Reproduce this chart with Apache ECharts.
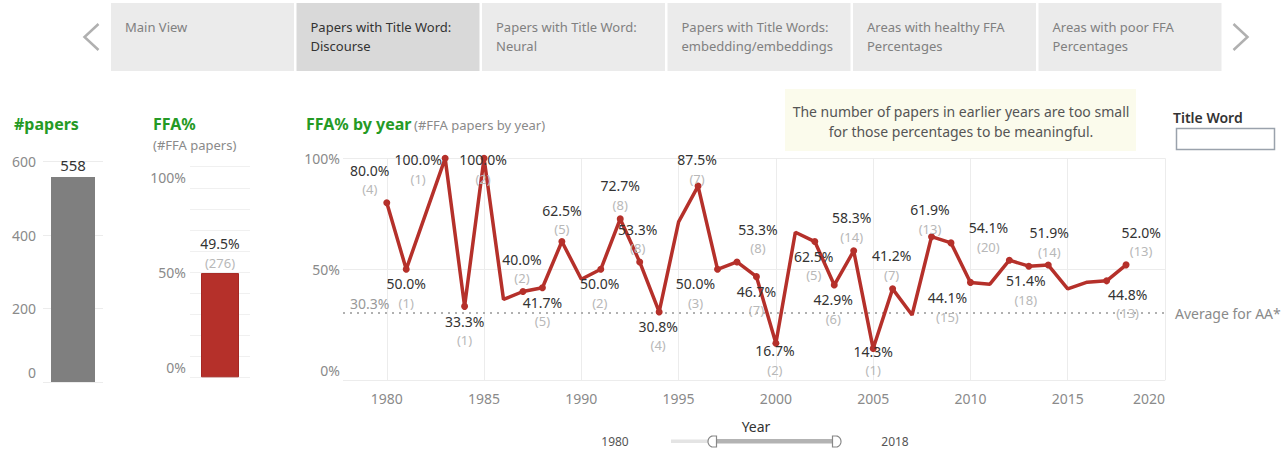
<!DOCTYPE html>
<html>
<head>
<meta charset="utf-8">
<script src="https://cdn.jsdelivr.net/npm/echarts@6/dist/echarts.min.js"></script>
<style>
html,body{margin:0;padding:0;background:#ffffff;}
#c{width:1286px;height:453px;}
</style>
</head>
<body>
<div id="c"></div>
<script>
// ---------- DATA ----------
const tabLines = [
  ["Main View", ""],
  ["Papers with Title Word:", "Discourse"],
  ["Papers with Title Word:", "Neural"],
  ["Papers with Title Words:", "embedding/embeddings"],
  ["Areas with healthy FFA", "Percentages"],
  ["Areas with poor FFA", "Percentages"]
];
const selectedTab = 1;

const totalPapers = 558;
const totalFfaPct = 49.5;
const totalFfaCount = 276;
const averageAA = 30.3;

const papersTicks = [0, 200, 400, 600];
const pctTicksSmall = [0, 10, 20, 30, 40, 50, 60, 70, 80, 90, 100];
const pctLabelTicks = [0, 50, 100];
const yearTicks = [1980, 1985, 1990, 1995, 2000, 2005, 2010, 2015, 2020];

const years = [1980, 1981, 1983, 1984, 1985, 1986, 1987, 1988, 1989, 1990,
  1991, 1992, 1993, 1994, 1995, 1996, 1997, 1998, 1999, 2000,
  2001, 2002, 2003, 2004, 2005, 2006, 2007, 2008, 2009, 2010,
  2011, 2012, 2013, 2014, 2015, 2016, 2017, 2018];
const ffaPct = [80.0, 50.0, 100.0, 33.3, 100.0, 36.4, 40.0, 41.7, 62.5, 45.5,
  50.0, 72.7, 53.3, 30.8, 71.4, 87.5, 50.0, 53.3, 46.7, 16.7,
  66.7, 62.5, 42.9, 58.3, 14.3, 41.2, 29.4, 64.7, 61.9, 44.1,
  43.3, 54.1, 51.4, 51.9, 41.2, 44.2, 44.8, 52.0];
const ffaCount = [4, 1, 1, 1, 2, null, 2, 5, 5, null,
  2, 8, 8, 4, null, 7, 3, 8, 7, 2,
  null, 5, 6, 14, 1, 7, null, null, 13, 15,
  null, 20, 18, 14, null, null, 13, 13];

const sliderYears = [1980, 2018];

// ---------- LAYOUT / STYLE ----------
const labelShift = {
  1980: [-17, -23], 1981: [0, 24], 1983: [-27, 11], 1984: [0, 24.5], 1985: [-1, 11],
  1987: [-1, -23], 1988: [0, 24], 1989: [0, -22], 1991: [-1, 24], 1992: [0, -23.5],
  1993: [-2, -23], 1994: [-1, 24], 1996: [-1, -17], 1997: [-22, 24], 1998: [21, -23],
  1999: [0, 24], 2000: [-1, 17], 2002: [-1, 24], 2003: [-1, 24], 2004: [-2, -23.5],
  2005: [0, 12], 2006: [-1, -23.5], 2009: [-21, -23.5], 2010: [-23, 25], 2012: [-21, -23],
  2013: [-3, 24], 2014: [1, -23], 2017: [21, 23], 2018: [15, -23]
};
const extraMarkers = [2008];

const FONT = '"Noto Sans"';
const GREEN = '#259a25';
const RED = '#b5302a';
const AXIS_GRAY = '#8a8a8a';
const LIGHT = '#b8b8b8';
const GRID = '#ececec';

const richPct = {
  p: { fontSize: 14, color: '#333333', lineHeight: 19, fontFamily: FONT },
  c: { fontSize: 13, color: LIGHT, lineHeight: 19, fontFamily: FONT }
};

const lineData = years.map((y, i) => {
  const sh = labelShift[y];
  const item = { value: [y, ffaPct[i]] };
  if (sh && ffaCount[i] != null) {
    item.label = {
      show: true, position: 'inside', offset: sh,
      formatter: '{p|' + ffaPct[i].toFixed(1) + '%}\n{c|(' + ffaCount[i] + ')}',
      rich: richPct
    };
    item.symbolSize = 7;
  } else if (extraMarkers.indexOf(y) >= 0) {
    item.symbolSize = 7;
  } else {
    item.symbolSize = 0.01;
  }
  return item;
});

// ---------- GRAPHICS ----------
const graphics = [];
tabLines.forEach((t, i) => {
  const x = 111 + i * 185.5;
  const col = i === selectedTab ? '#333333' : '#808080';
  graphics.push({ type: 'rect', shape: { x: x, y: 3, width: 183, height: 68 },
    style: { fill: i === selectedTab ? '#d9d9d9' : '#ebebeb' }, silent: true });
  graphics.push({ type: 'text', x: x + 14, y: 27,
    style: { text: t[0], fill: col, font: '13px ' + FONT, verticalAlign: 'middle' } });
  if (t[1]) graphics.push({ type: 'text', x: x + 14, y: 46,
    style: { text: t[1], fill: col, font: '13px ' + FONT, verticalAlign: 'middle' } });
});
graphics.push({ type: 'polyline', shape: { points: [[98.5, 24], [84.5, 37], [98.5, 50]] }, style: { stroke: '#b0b0b0', lineWidth: 2.5, fill: null } });
graphics.push({ type: 'polyline', shape: { points: [[1233.5, 24], [1247.5, 37], [1233.5, 50]] }, style: { stroke: '#b0b0b0', lineWidth: 2.5, fill: null } });

graphics.push({ type: 'text', x: 14, y: 124, style: { text: '#papers', fill: GREEN, font: 'bold 16px ' + FONT, verticalAlign: 'middle' } });
graphics.push({ type: 'text', x: 153, y: 124, style: { text: 'FFA%', fill: GREEN, font: 'bold 16px ' + FONT, verticalAlign: 'middle' } });
graphics.push({ type: 'text', x: 153, y: 145, style: { text: '(#FFA papers)', fill: '#8a8a8a', font: '13px ' + FONT, verticalAlign: 'middle' } });
graphics.push({ type: 'text', x: 306, y: 124, style: { text: 'FFA% by year', fill: GREEN, font: 'bold 16px ' + FONT, verticalAlign: 'middle' } });
graphics.push({ type: 'text', x: 414, y: 125, style: { text: '(#FFA papers by year)', fill: '#8a8a8a', font: '13px ' + FONT, verticalAlign: 'middle' } });

graphics.push({ type: 'rect', shape: { x: 785, y: 89, width: 351, height: 62 }, style: { fill: '#fbfbec' }, silent: true });
graphics.push({ type: 'text', x: 961, y: 111, style: { text: 'The number of papers in earlier years are too small', fill: '#555555', font: '14px ' + FONT, align: 'center', verticalAlign: 'middle' } });
graphics.push({ type: 'text', x: 961, y: 131, style: { text: 'for those percentages to be meaningful.', fill: '#555555', font: '14px ' + FONT, align: 'center', verticalAlign: 'middle' } });

graphics.push({ type: 'text', x: 1173, y: 117, style: { text: 'Title Word', fill: '#333333', font: '600 14px ' + FONT, verticalAlign: 'middle' } });
graphics.push({ type: 'rect', shape: { x: 1176.5, y: 128.5, width: 98, height: 21 }, style: { fill: '#ffffff', stroke: '#9aa2ac', lineWidth: 1.5 } });

graphics.push({ type: 'text', x: 756, y: 426, style: { text: 'Year', fill: '#333333', font: '14px ' + FONT, align: 'center', verticalAlign: 'middle' } });
graphics.push({ type: 'text', x: 615, y: 441, style: { text: String(sliderYears[0]), fill: '#555555', font: '12px ' + FONT, align: 'center', verticalAlign: 'middle' } });
graphics.push({ type: 'text', x: 895, y: 441, style: { text: String(sliderYears[1]), fill: '#555555', font: '12px ' + FONT, align: 'center', verticalAlign: 'middle' } });
graphics.push({ type: 'rect', shape: { x: 671, y: 439.5, width: 42, height: 3.5 }, style: { fill: '#e4e4e4' } });
graphics.push({ type: 'rect', shape: { x: 713, y: 439, width: 122, height: 4.5 }, style: { fill: '#b3b3b3' } });
function handlePts(xFlat, xRound, dir) {
  const pts = [[xFlat, 436], [xRound, 436]];
  for (let k = 1; k < 12; k++) {
    const a = -Math.PI / 2 + Math.PI * k / 12;
    pts.push([xRound + dir * 5 * Math.cos(a), 441.5 + 5.5 * Math.sin(a)]);
  }
  pts.push([xRound, 447], [xFlat, 447]);
  return pts;
}
graphics.push({ type: 'polygon', shape: { points: handlePts(716.5, 713, -1) }, style: { fill: '#ffffff', stroke: '#888888', lineWidth: 1.2 } });
graphics.push({ type: 'polygon', shape: { points: handlePts(832.5, 836, 1) }, style: { fill: '#ffffff', stroke: '#888888', lineWidth: 1.2 } });

// ---------- CHART ----------
const chart = echarts.init(document.getElementById('c'), null, { renderer: 'svg', width: 1286, height: 453 });

function yLabelFmt(shifts) {
  return function (v) {
    const s = shifts[v] || 'n';
    return '{' + s + '|' + v + (shifts.pct ? '%' : '') + '}';
  };
}
const yRich = {
  n: { fontSize: 14, color: AXIS_GRAY, fontFamily: FONT },
  up: { fontSize: 14, color: AXIS_GRAY, fontFamily: FONT, padding: [0, 0, 19, 0] },
  dn: { fontSize: 14, color: AXIS_GRAY, fontFamily: FONT, padding: [21, 0, 0, 0] }
};

const option = {
  animation: false,
  textStyle: { fontFamily: FONT },
  graphic: graphics,
  grid: [
    { left: 43, width: 60, top: 161.7, bottom: 71 },
    { left: 190, width: 60, top: 166.7, bottom: 75.7 },
    { left: 343, right: 121, top: 158.3, bottom: 72.7 }
  ],
  xAxis: [
    { gridIndex: 0, type: 'category', data: ['all'], axisLine: { show: false }, axisTick: { show: false }, axisLabel: { show: false } },
    { gridIndex: 1, type: 'category', data: ['all'], axisLine: { show: false }, axisTick: { show: false }, axisLabel: { show: false } },
    {
      gridIndex: 2, type: 'value', min: 1977.75, max: 2020,
      axisLine: { show: false },
      axisTick: { show: false, customValues: yearTicks },
      axisLabel: { customValues: yearTicks, color: AXIS_GRAY, fontSize: 14, margin: 11, alignMaxLabel: 'right', formatter: v => String(v) },
      splitLine: { show: true, lineStyle: { color: GRID, width: 1 } }
    }
  ],
  yAxis: [
    {
      gridIndex: 0, type: 'value', min: 0, max: 600,
      axisLine: { show: false },
      axisTick: { show: false, customValues: papersTicks },
      axisLabel: { customValues: papersTicks, margin: 7, formatter: yLabelFmt({ 0: 'up' }), rich: yRich },
      splitLine: { show: true, lineStyle: { color: GRID } }
    },
    {
      gridIndex: 1, type: 'value', min: 0, max: 100,
      axisLine: { show: false },
      axisTick: { show: false, customValues: pctTicksSmall },
      axisLabel: { customValues: pctLabelTicks, margin: 4, formatter: yLabelFmt({ pct: true, 0: 'up', 100: 'dn' }), rich: yRich },
      splitLine: { show: true, lineStyle: { color: '#f0f0f0' } }
    },
    {
      gridIndex: 2, type: 'value', min: 0, max: 100,
      axisLine: { show: false },
      axisTick: { show: false, customValues: pctLabelTicks },
      axisLabel: { customValues: pctLabelTicks, margin: 3, formatter: yLabelFmt({ pct: true, 0: 'up' }), rich: yRich },
      splitLine: { show: true, lineStyle: { color: GRID } }
    }
  ],
  series: [
    {
      type: 'bar', xAxisIndex: 0, yAxisIndex: 0, data: [totalPapers], barWidth: 44,
      itemStyle: { color: '#7f7f7f' }, silent: true,
      label: { show: true, position: 'top', distance: 5, color: '#333333', fontSize: 15, fontFamily: FONT }
    },
    {
      type: 'bar', xAxisIndex: 1, yAxisIndex: 1, data: [totalFfaPct], barWidth: 38,
      itemStyle: { color: RED, borderColor: '#a52823', borderWidth: 1 }, silent: true,
      label: {
        show: true, position: 'top', distance: 1,
        formatter: '{p|' + totalFfaPct.toFixed(1) + '%}\n{c|(' + totalFfaCount + ')}', rich: richPct
      }
    },
    {
      type: 'line', xAxisIndex: 2, yAxisIndex: 2, data: lineData,
      symbol: 'circle', showSymbol: true, clip: false, silent: true,
      lineStyle: { color: RED, width: 3.5 },
      itemStyle: { color: RED },
      label: { show: false },
      z: 5,
      markLine: {
        silent: true, symbol: 'none', z: 1,
        lineStyle: { color: '#b0b0b0', type: [2, 5], width: 2 },
        data: [
          { yAxis: averageAA, label: { show: true, position: 'end', distance: 10, formatter: 'Average for AA*', color: '#8a8a8a', fontSize: 14, fontFamily: FONT } }
        ]
      }
    },
    {
      type: 'line', xAxisIndex: 2, yAxisIndex: 2, data: [], silent: true,
      markLine: {
        silent: true, symbol: 'none', z: 1,
        lineStyle: { color: 'rgba(0,0,0,0)', width: 0 },
        data: [
          { yAxis: averageAA, label: { show: true, position: 'insideStartTop', distance: [7, 3], formatter: averageAA.toFixed(1) + '%', color: '#999999', fontSize: 14, fontFamily: FONT } }
        ]
      }
    }
  ]
};
chart.setOption(option);
</script>
</body>
</html>
